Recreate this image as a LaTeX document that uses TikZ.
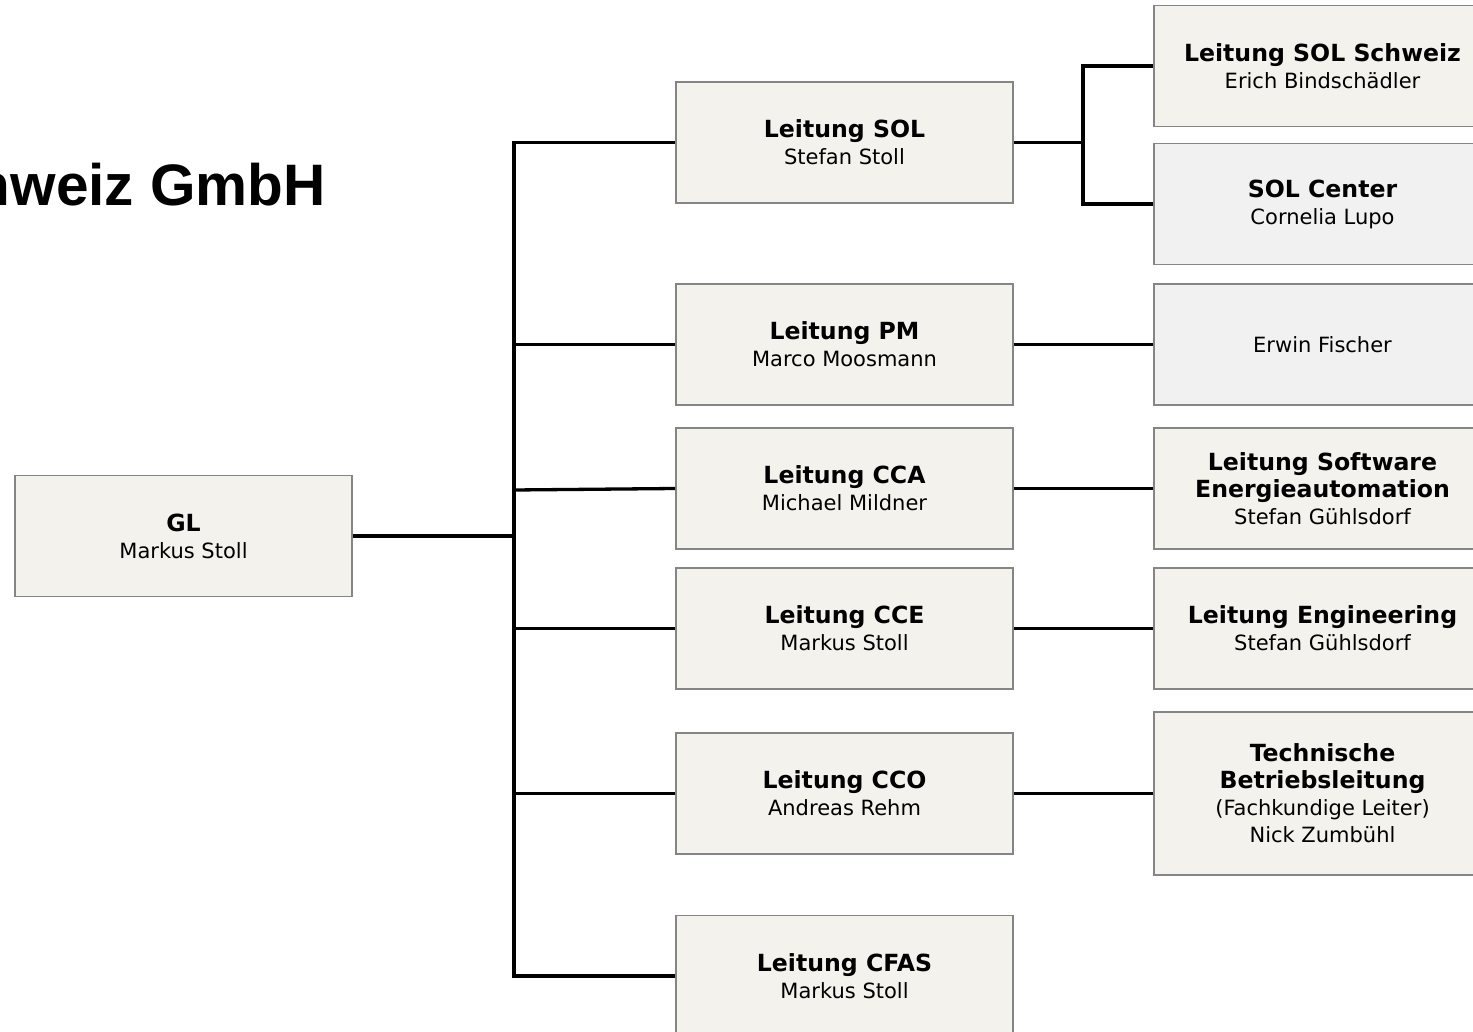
\documentclass[tikz,border=0pt]{standalone}
\usepackage{fontspec}
\setmainfont{DejaVu Sans}
\newfontfamily\titlefont{Liberation Sans}
\definecolor{boxfill}{HTML}{F3F2EC}
\definecolor{boxgray}{HTML}{F1F1F1}
\definecolor{boxline}{HTML}{858585}
\newcommand{\hd}[1]{{\fontsize{23.6}{28}\selectfont\bfseries #1}}
\tikzset{
  box/.style={draw=boxline,fill=boxfill,line width=1.6pt,minimum width=337pt,minimum height=121pt,inner sep=0pt,align=center,font=\fontsize{21}{27}\selectfont},
  graybox/.style={box,fill=boxgray},
  link/.style={black,line width=3.3pt},
}
\begin{document}
\begin{tikzpicture}[x=1pt,y=-1pt,line join=miter]
%%
\clip (0,0) rectangle (1473,1032);
\node (title) at (326,206) [anchor=base east,inner sep=0pt,font=\titlefont\fontsize{58.5}{70}\selectfont\bfseries] {Schweiz GmbH};
%
\node (gl) at (183.5,536) [box] {\hd{GL}\\Markus Stoll};
%
\node (sol) at (844.5,142.5) [box] {\hd{Leitung SOL}\\Stefan Stoll};
  \node (pm) at (844.5,344.5) [box] {\hd{Leitung PM}\\Marco Moosmann};
  \node (cca) at (844.5,488.5) [box] {\hd{Leitung CCA}\\Michael Mildner};
  \node (cce) at (844.5,628.5) [box] {\hd{Leitung CCE}\\Markus Stoll};
  \node (cco) at (844.5,793.5) [box] {\hd{Leitung CCO}\\Andreas Rehm};
  \node (cfas) at (844.5,976) [box] {\hd{Leitung CFAS}\\Markus Stoll};
%
\node (solch) at (1322.5,66) [box] {\hd{Leitung SOL Schweiz}\\Erich Bindschädler};
  \node (solc) at (1322.5,204) [graybox] {\hd{SOL Center}\\Cornelia Lupo};
  \node (pmf) at (1322.5,344.5) [graybox] {Erwin Fischer};
  \node (swea) at (1322.5,488.5) [box] {\hd{Leitung Software}\\\hd{Energieautomation}\\Stefan Gühlsdorf};
  \node (eng) at (1322.5,628.5) [box] {\hd{Leitung Engineering}\\Stefan Gühlsdorf};
  \node (tbl) at (1322.5,793.5) [box,minimum height=163pt] {\hd{Technische}\\\hd{Betriebsleitung}\\(Fachkundige Leiter)\\Nick Zumbühl};
%
\coordinate (j0) at (514,536);
  \coordinate (j1) at (1083,142.5);
  \draw [link] (gl.east) -- (j0);
  \draw [link] (sol.west) -- (j0 |- sol.west) -- (j0 |- cfas.west) -- (cfas.west);
  \draw [link] (j0 |- pm.west) -- (pm.west);
  \draw [link] ([yshift=-1.5pt]j0 |- cca.west) -- (cca.west);
  \draw [link] (j0 |- cce.west) -- (cce.west);
  \draw [link] (j0 |- cco.west) -- (cco.west);
%
\draw [link] (sol.east) -- (j1);
  \draw [link] (solch.west) -- (j1 |- solch.west) -- (j1 |- solc.west) -- (solc.west);
  \draw [link] (pm.east) -- (pmf.west);
  \draw [link] (cca.east) -- (swea.west);
  \draw [link] (cce.east) -- (eng.west);
  \draw [link] (cco.east) -- (tbl.west);
%
\end{tikzpicture}
\end{document}
